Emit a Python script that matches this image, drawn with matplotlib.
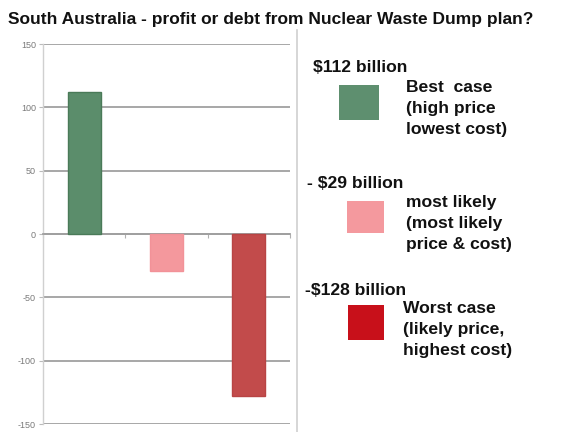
import matplotlib
matplotlib.use("Agg")
import matplotlib.pyplot as plt
from matplotlib.patches import Rectangle
from matplotlib.lines import Line2D

plt.rcParams['font.family'] = ['Liberation Sans', 'DejaVu Sans']

title = "South Australia - profit or debt from Nuclear Waste Dump plan?"
scenarios = ["Best case", "Most likely", "Worst case"]
values = [112, -29, -128]
bar_colors = ["#5b8d6b", "#f4989d", "#c24b4b"]
edge_colors = ["#4a7a58", "#f29298", "#b84444"]
yticks = [150, 100, 50, 0, -50, -100, -150]
value_labels = ["$112 billion", "- $29 billion", "-$128 billion"]
desc_labels = [
    ["Best  case", "(high price", "lowest cost)"],
    ["most likely", "(most likely", "price & cost)"],
    ["Worst case", "(likely price,", "highest cost)"],
]
legend_colors = ["#5e8f6f", "#f4999e", "#c8101a"]

W, H = 576, 432
fig = plt.figure(figsize=(W / 100, H / 100), dpi=100)

def fx(x):
    return x / W

def fy(y):
    return 1 - y / H

ax = fig.add_axes([fx(43), fy(424), (290 - 43) / W, (424 - 44) / H])
xs = list(range(len(values)))
ax.bar(xs, values, width=0.40, color=bar_colors, edgecolor=edge_colors, linewidth=1.0, zorder=3)
ax.set_xlim(-0.5, 2.5)
ax.set_ylim(-150, 150)
ax.set_yticks(yticks)
ax.set_yticklabels([str(v) for v in yticks], fontsize=6.5, color="#7a7a7a")
ax.tick_params(axis='y', length=3, color="#bbbbbb", pad=2)
ax.grid(axis='y', color="#a0a0a0", linewidth=1.3, zorder=0)
for s in ['top', 'right']:
    ax.spines[s].set_visible(False)
ax.spines['left'].set_color("#d0d0d0")
ax.spines['left'].set_linewidth(1.0)
ax.spines['bottom'].set_position(('data', 0))
ax.spines['bottom'].set_color("#a0a0a0")
ax.spines['bottom'].set_linewidth(1.3)
ax.set_xticks([-0.5, 0.5, 1.5, 2.5])
ax.set_xticklabels([])
ax.tick_params(axis='x', length=3, color="#b0b0b0", direction='out')

# right vertical separator
fig.add_artist(Line2D([fx(297), fx(297)], [fy(30), fy(432)], color="#d0d0d0", linewidth=1.2))

fig.text(fx(8), fy(24), title, fontsize=12.5, fontweight='bold', color="#111111", va='baseline')

val_pos = [(313, 72), (307, 188), (305, 295)]
box_pos = [(339, 85, 379, 120), (347, 201, 384, 233), (348, 305, 384, 340)]
desc_pos = [(406, 92), (406, 207), (403, 313)]
for i in range(3):
    x, y = val_pos[i]
    fig.text(fx(x), fy(y), value_labels[i], fontsize=12.6, fontweight='bold', color="#111111", va='baseline')
    x0, y0, x1, y1 = box_pos[i]
    fig.add_artist(Rectangle((fx(x0), fy(y1)), (x1 - x0) / W, (y1 - y0) / H,
                             facecolor=legend_colors[i], edgecolor='none', transform=fig.transFigure))
    dx, dy = desc_pos[i]
    for j, line in enumerate(desc_labels[i]):
        fig.text(fx(dx), fy(dy + 21 * j), line, fontsize=12.6, fontweight='bold', color="#111111", va='baseline')

fig.savefig("out.png", dpi=100)
